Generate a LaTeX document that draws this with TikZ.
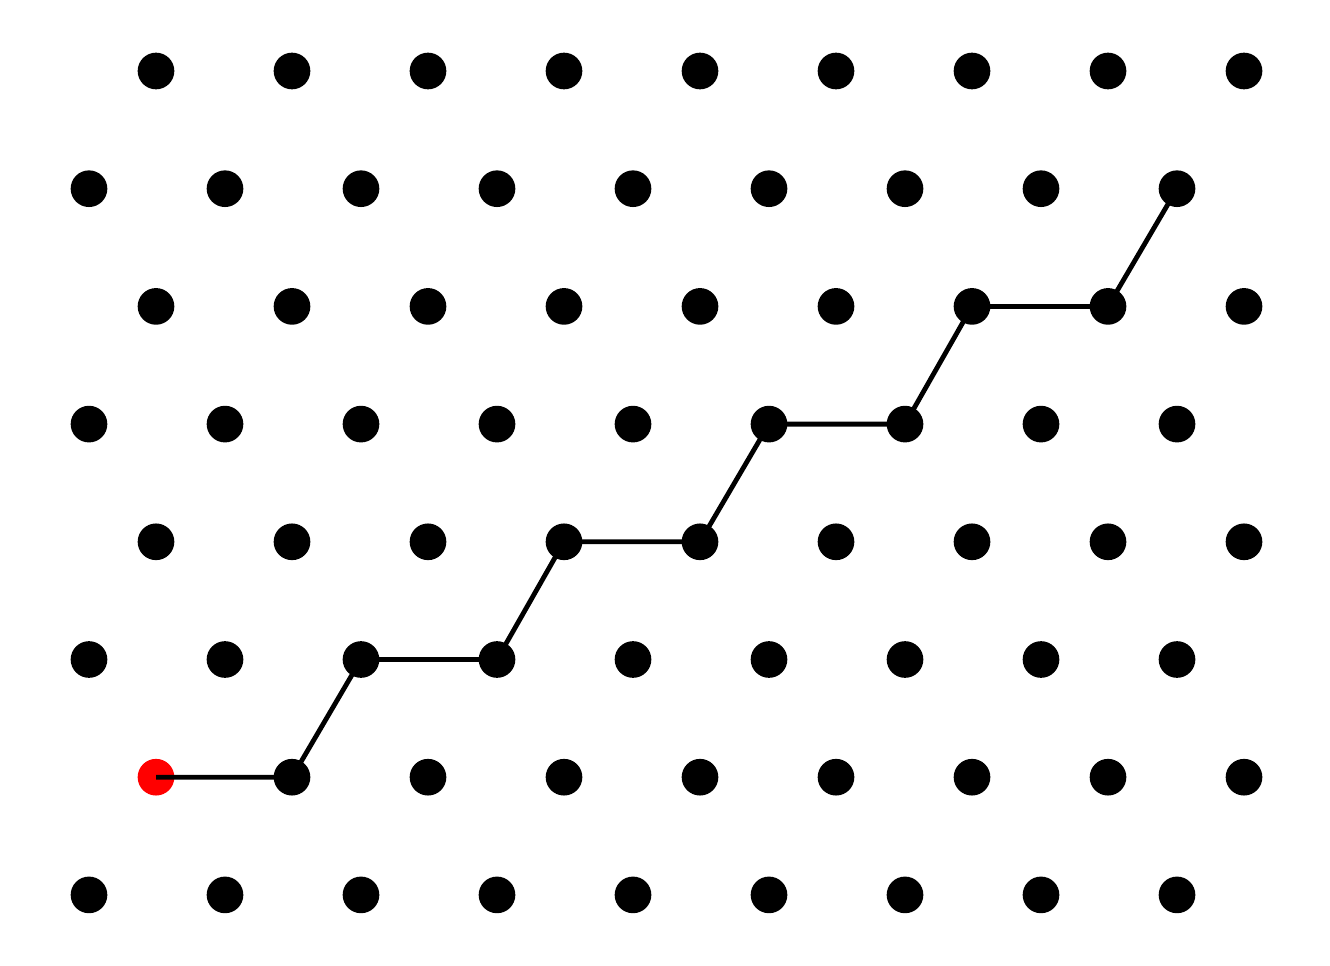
\documentclass[tikz,border=0pt]{standalone}
\begin{document}
\begin{tikzpicture}[x=0.75pt,y=-0.75pt,
  dot/.style={circle,fill=black,inner sep=0pt,minimum size=27.5pt},
  startdot/.style={dot,fill=red},
  walk/.style={line width=3.6pt,line cap=butt}]
\useasboundingbox (0,0) rectangle (1330,966);
\foreach \r in {0,...,7}{
  \foreach \c in {0,...,8}{
    \pgfmathsetmacro{\xx}{(mod(\r,2)==0 ? 156 : 89) + 136*\c}
    \pgfmathsetmacro{\yy}{71 + 117.7*\r}
    \ifnum\r=6 \ifnum\c=0
      \node[startdot] (d-\r-\c) at (\xx,\yy) {};
    \else
      \node[dot] (d-\r-\c) at (\xx,\yy) {};
    \fi\else
      \node[dot] (d-\r-\c) at (\xx,\yy) {};
    \fi
  }
}
\draw[walk] (d-6-0.center) -- (d-6-1.center) -- (d-5-2.center) -- (d-5-3.center)
  -- (d-4-3.center) -- (d-4-4.center) -- (d-3-5.center) -- (d-3-6.center)
  -- (d-2-6.center) -- (d-2-7.center) -- (d-1-8.center);
\end{tikzpicture}
\end{document}
